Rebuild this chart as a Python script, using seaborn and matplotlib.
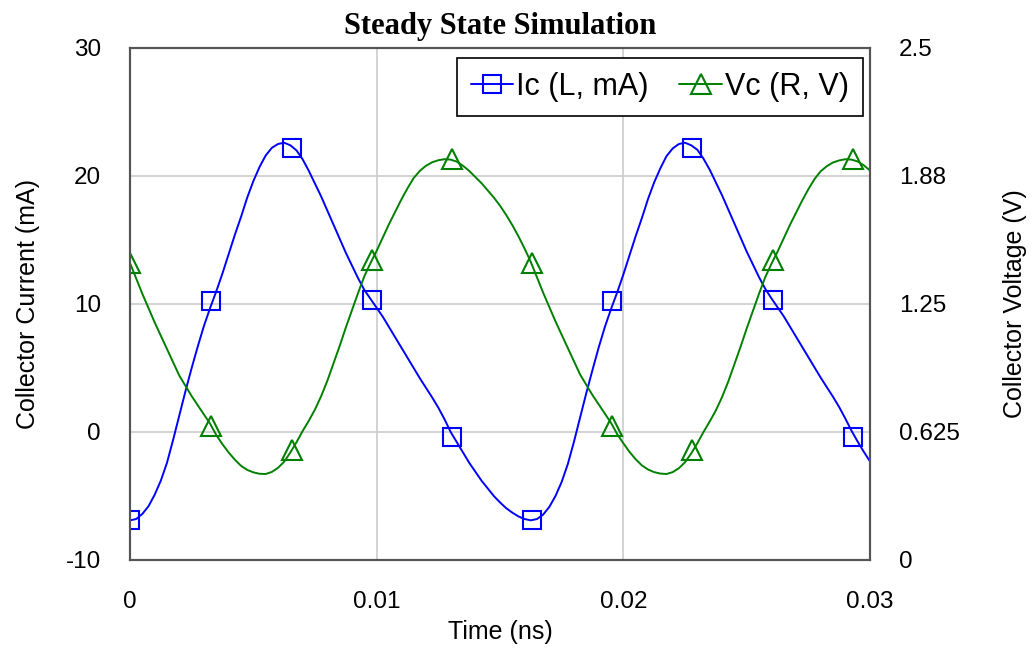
import matplotlib
matplotlib.use("Agg")
import matplotlib.pyplot as plt
from matplotlib.lines import Line2D
import seaborn as sns
import pandas as pd

# Sample times (ns)
time_ns = [
    0.00000, 0.00025, 0.00050, 0.00075, 0.00100, 0.00125, 0.00150, 0.00175, 0.00200, 0.00225,
    0.00250, 0.00275, 0.00300, 0.00325, 0.00350, 0.00375, 0.00400, 0.00425, 0.00450, 0.00475,
    0.00500, 0.00525, 0.00550, 0.00575, 0.00600, 0.00625, 0.00650, 0.00675, 0.00700, 0.00725,
    0.00750, 0.00775, 0.00800, 0.00825, 0.00850, 0.00875, 0.00900, 0.00925, 0.00950, 0.00975,
    0.01000, 0.01025, 0.01050, 0.01075, 0.01100, 0.01125, 0.01150, 0.01175, 0.01200, 0.01225,
    0.01250, 0.01275, 0.01300, 0.01325, 0.01350, 0.01375, 0.01400, 0.01425, 0.01450, 0.01475,
    0.01500, 0.01525, 0.01550, 0.01575, 0.01600, 0.01625, 0.01650, 0.01675, 0.01700, 0.01725,
    0.01750, 0.01775, 0.01800, 0.01825, 0.01850, 0.01875, 0.01900, 0.01925, 0.01950, 0.01975,
    0.02000, 0.02025, 0.02050, 0.02075, 0.02100, 0.02125, 0.02150, 0.02175, 0.02200, 0.02225,
    0.02250, 0.02275, 0.02300, 0.02325, 0.02350, 0.02375, 0.02400, 0.02425, 0.02450, 0.02475,
    0.02500, 0.02525, 0.02550, 0.02575, 0.02600, 0.02625, 0.02650, 0.02675, 0.02700, 0.02725,
    0.02750, 0.02775, 0.02800, 0.02825, 0.02850, 0.02875, 0.02900, 0.02925, 0.02950, 0.02975,
    0.03000,
]

# Collector current (mA)
ic_ma = [
    -6.9, -6.8, -6.4, -5.8, -4.9, -3.8, -2.4, -0.6, 1.3, 3.2,
    5.0, 6.7, 8.3, 9.7, 11.0, 12.4, 13.9, 15.4, 16.8, 18.3,
    19.6, 20.7, 21.6, 22.2, 22.5, 22.6, 22.4, 22.0, 21.3, 20.4,
    19.4, 18.4, 17.3, 16.2, 15.1, 14.0, 13.0, 12.0, 11.1, 10.4,
    9.7, 9.0, 8.2, 7.4, 6.6, 5.8, 5.0, 4.2, 3.45, 2.7,
    1.9, 1.0, 0.0, -0.8, -1.6, -2.4, -3.1, -3.8, -4.4, -5.0,
    -5.5, -5.95, -6.3, -6.6, -6.8, -6.9, -6.8, -6.45, -5.85, -5.0,
    -3.9, -2.5, -0.75, 1.15, 3.05, 4.85, 6.6, 8.2, 9.6, 10.9,
    12.3, 13.8, 15.3, 16.7, 18.2, 19.5, 20.6, 21.55, 22.15, 22.5,
    22.6, 22.4, 22.05, 21.35, 20.5, 19.5, 18.5, 17.4, 16.3, 15.2,
    14.1, 13.1, 12.1, 11.2, 10.45, 9.75, 9.05, 8.25, 7.45, 6.65,
    5.85, 5.05, 4.25, 3.5, 2.75, 1.95, 1.05, 0.1, -0.75, -1.55,
    -2.3,
]

# Collector voltage (V)
vc_v = [
    1.45, 1.375, 1.30, 1.23, 1.16, 1.095, 1.03, 0.965, 0.90, 0.85,
    0.80, 0.755, 0.71, 0.665, 0.61, 0.565, 0.525, 0.49, 0.46, 0.44,
    0.428, 0.421, 0.42, 0.43, 0.45, 0.48, 0.525, 0.575, 0.63, 0.68,
    0.735, 0.80, 0.875, 0.96, 1.045, 1.135, 1.22, 1.305, 1.385, 1.45,
    1.51, 1.575, 1.64, 1.70, 1.76, 1.815, 1.865, 1.90, 1.925, 1.942,
    1.952, 1.957, 1.955, 1.945, 1.925, 1.90, 1.87, 1.84, 1.805, 1.77,
    1.73, 1.685, 1.635, 1.58, 1.52, 1.455, 1.38, 1.305, 1.235, 1.165,
    1.10, 1.035, 0.97, 0.905, 0.855, 0.805, 0.76, 0.715, 0.67, 0.615,
    0.57, 0.528, 0.492, 0.462, 0.442, 0.429, 0.422, 0.42, 0.429, 0.448,
    0.477, 0.52, 0.57, 0.625, 0.676, 0.73, 0.795, 0.87, 0.955, 1.04,
    1.13, 1.215, 1.30, 1.38, 1.445, 1.505, 1.57, 1.635, 1.695, 1.755,
    1.81, 1.86, 1.898, 1.923, 1.941, 1.951, 1.957, 1.955, 1.946, 1.927,
    1.902,
]

# Marker positions along each trace
marker_time_ns = [0.0, 0.00329, 0.00656, 0.00981, 0.01307, 0.0163, 0.01956, 0.0228, 0.02606, 0.02931]
ic_marker_ma = [-6.9, 10.2, 22.2, 10.3, -0.4, -6.9, 10.2, 22.2, 10.3, -0.4]
vc_marker_v = [1.45, 0.656, 0.535, 1.465, 1.96, 1.45, 0.656, 0.535, 1.465, 1.96]

x_ticks = [0, 0.01, 0.02, 0.03]
x_tick_labels = ["0", "0.01", "0.02", "0.03"]
left_ticks = [-10, 0, 10, 20, 30]
right_ticks = [0, 0.625, 1.25, 1.875, 2.5]
right_tick_labels = ["0", "0.625", "1.25", "1.88", "2.5"]

series_names = ["Ic (L, mA)", "Vc (R, V)"]
ic_color = "#0000ff"
vc_color = "#008000"

sns.set_theme(style="white")
plt.rcParams["font.family"] = ["Liberation Sans", "DejaVu Sans"]
plt.rcParams["text.color"] = "black"
plt.rcParams["axes.labelcolor"] = "black"

df = pd.DataFrame({"t": time_ns, "ic": ic_ma, "vc": vc_v})

fig = plt.figure(figsize=(10.32, 6.51), dpi=100)
ax = fig.add_axes([130 / 1032, 1 - 560 / 651, 740 / 1032, 512 / 651])
ax2 = ax.twinx()

sns.lineplot(data=df, x="t", y="ic", ax=ax, color=ic_color, linewidth=1.4, sort=False)
ax.plot(marker_time_ns, ic_marker_ma, linestyle="none", marker="s", markersize=12.5,
        markerfacecolor="none", markeredgecolor=ic_color, markeredgewidth=1.5)

sns.lineplot(data=df, x="t", y="vc", ax=ax2, color=vc_color, linewidth=1.4, sort=False)
ax2.plot(marker_time_ns, vc_marker_v, linestyle="none", marker="^", markersize=14,
         markerfacecolor="none", markeredgecolor=vc_color, markeredgewidth=1.5)

ax.set_xlim(0, 0.03)
ax.set_ylim(-10, 30)
ax2.set_ylim(0, 2.5)

ax.set_xticks(x_ticks)
ax.set_xticklabels(x_tick_labels)
ax.set_yticks(left_ticks)
ax.set_yticklabels([str(v) for v in left_ticks])
ax2.set_yticks(right_ticks)
ax2.set_yticklabels(right_tick_labels)

tick_font = 17.5
ax.tick_params(axis="both", length=0, labelsize=tick_font, colors="black")
ax.tick_params(axis="x", pad=22)
ax.tick_params(axis="y", pad=21)
ax2.tick_params(axis="y", length=0, labelsize=tick_font, pad=21, colors="black")

ax.grid(True, color="#cccccc", linewidth=1.2)
ax2.grid(False)

for a in (ax, ax2):
    for s in a.spines.values():
        s.set_color("#555555")
        s.set_linewidth(1.5)

ax.set_xlabel("Time (ns)", fontsize=18, color="black")
ax.set_ylabel("Collector Current (mA)", fontsize=18, color="black")
ax2.set_ylabel("Collector Voltage (V)", fontsize=18, color="black")
ax.xaxis.set_label_coords(0.5, -0.118)
ax.yaxis.set_label_coords((40 - 130) / 740, 0.5)
ax2.yaxis.set_label_coords((1003 - 130) / 740, 0.5)

ax.set_title("Steady State Simulation", fontsize=22, fontweight="bold", color="black",
             family=["Liberation Serif", "DejaVu Serif"], pad=10)

handles = [
    Line2D([], [], color=ic_color, linewidth=1.4, marker="s", markersize=12.5,
           markerfacecolor="none", markeredgewidth=1.5),
    Line2D([], [], color=vc_color, linewidth=1.4, marker="^", markersize=14,
           markerfacecolor="none", markeredgewidth=1.5),
]
leg = ax2.legend(handles, series_names, loc="upper right", ncol=2, fontsize=22,
                 bbox_to_anchor=((863 - 130) / 740, (560 - 58) / 512),
                 frameon=True, fancybox=False, framealpha=1, edgecolor="black",
                 handlelength=1.4, handletextpad=0.1, columnspacing=1.0,
                 borderpad=0.45, borderaxespad=0.0)
leg.get_frame().set_linewidth(1.2)
for txt in leg.get_texts():
    txt.set_color("black")

fig.savefig("out.png", dpi=100)
